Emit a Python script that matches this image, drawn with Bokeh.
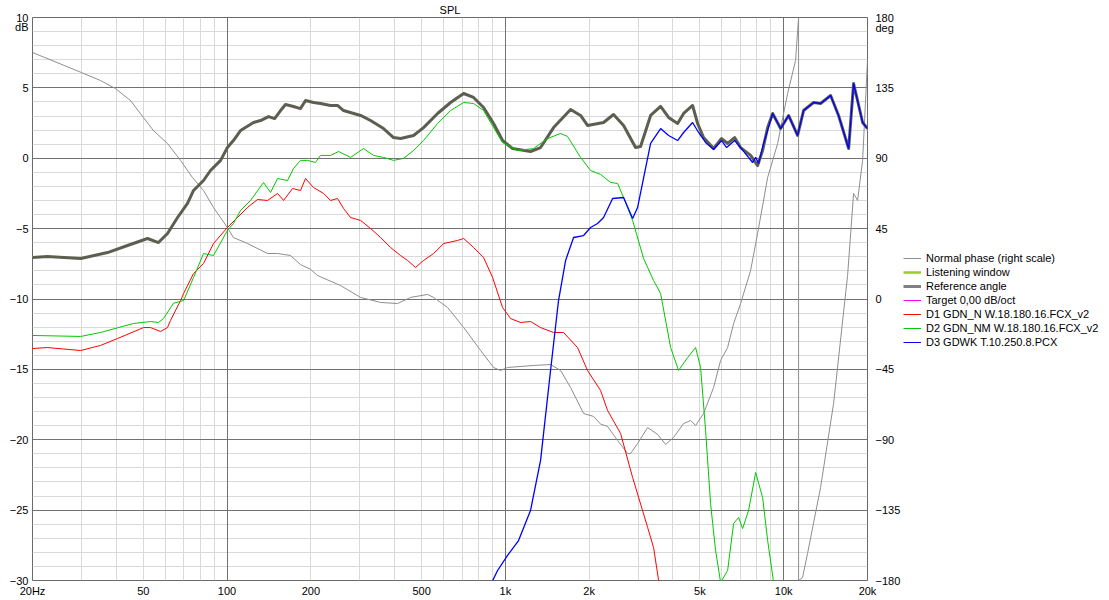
from bokeh.plotting import figure
from bokeh.layouts import row
from bokeh.models import (Range1d, LinearAxis, FixedTicker, Grid, Legend, LegendItem)
from bokeh.embed import file_html
from bokeh.resources import INLINE

# ---------------- data ----------------
phase_freq = [20, 30, 35.1, 39.7, 45.0, 50.1, 54.4, 61.1, 68.1, 75.1, 82.3, 89.4, 100.3, 105.4, 118.4, 139.8,
              151.9, 169.1, 183.7, 199.5, 211.4, 255.8, 301.8, 356.1, 409.9, 456.3, 525.4, 552.2,
              620, 707.9, 814.6, 906.9, 960.8, 1018, 1262, 1453, 1579, 1715, 1910, 2075, 2198,
              2329, 2530, 2749, 2818, 2985, 3244, 3524, 3764, 4022, 4369, 4629, 4825, 5154, 5598,
              5933, 6287, 6607, 7001, 7604, 8058, 8755, 9508, 10327, 11031, 11308, 11308, 11686,
              12180, 13566, 15110, 16963, 17826, 18426, 19209, 20000]
phase_deg = [157.6, 144.8, 139.7, 134.6, 126.9, 116.0, 107.7, 99.4, 88.6, 77.7, 69.4, 58.5, 45.7, 39.3, 35.5, 29.1,
             29.1, 27.8, 22.0, 19.0, 15.0, 8.6, 1.0, -2.2, -2.9, 1.0, 2.9, 1.0,
             -5.4, -18.2, -32.9, -43.8, -45.7, -43.8, -42.5, -41.9, -45.7, -56.6, -73.2, -75.1, -80.0,
             -81.5, -90.5, -98.8, -98.8, -92.4, -82.2, -86.6, -93.0, -88.5, -79.6, -77.7, -80.9, -73.2, -56.6,
             -39.3, -31.0, -15.7, -2.9, 18.2, 41.9, 77.7, 99.4, 131.4, 152.5, 180.0, -180.0, -178.1,
             -162.7, -120.5, -66.8, 15.0, 67.5, 63.0, 88.6, 152.5]

ref_freq = [20, 22.6, 29.8, 37.2, 43.9, 51.8, 56.7, 61.1, 66.4, 72.1, 75.8, 82.3, 87.2, 94.8, 100.3,
            105.4, 111.8, 124.5, 131.9, 141, 148.2, 155.7, 162.2, 173.3, 183.7, 191.4, 204.5, 216.7,
            235.4, 249.4, 262.2, 301.8, 327.8, 364.9, 396.5, 420.1, 467.8, 508.2, 570.7, 635.5, 707.9,
            768.6, 834.9, 906.9, 976.9, 1061, 1231, 1338, 1490, 1715, 1863, 1973, 2253, 2447, 2659,
            2936, 3060, 3325, 3612, 3859, 4157, 4369, 4705, 4905, 5154, 5598, 5982, 6287, 6662, 7001,
            7604, 8058, 8397, 8755, 9125, 9749, 10413, 11215, 11787, 12806, 13566, 14741, 15745,
            17110, 17826, 19209, 20000]
ref_db = [-7.05, -6.98, -7.12, -6.70, -6.20, -5.70, -5.99, -5.35, -4.21, -3.21, -2.29, -1.58, -0.87,
          -0.15, 0.76, 1.26, 1.97, 2.54, 2.68, 2.96, 2.82, 3.39, 3.82, 3.68, 3.53, 4.10, 3.96, 3.89,
          3.75, 3.75, 3.39, 3.04, 2.68, 2.11, 1.47, 1.40, 1.62, 2.18, 3.18, 3.96, 4.60,
          4.32, 3.61, 2.47, 1.26, 0.69, 0.48, 0.76, 2.18, 3.46, 3.04, 2.33, 2.54, 3.11, 2.33,
          0.76, 0.83, 3.04, 3.68, 2.90, 2.47, 3.18, 3.75, 2.47, 1.47, 0.69, 1.40, 1.05, 1.47, 0.76,
          0.20, -0.52, 0.55, 2.18, 3.18, 2.11, 3.04, 1.62, 3.39, 3.96, 3.89, 4.46, 3.04,
          0.69, 5.31, 2.54, 2.11]

d1_freq = [20, 22.6, 29.8, 35.1, 40.4, 50.1, 53.1, 57.7, 61.1, 62.6, 68.1, 69.8, 75.8, 82.3, 89.4,
           100.3, 109.1, 118.4, 128.7, 139.8, 151.9, 159.6, 171.9, 183.7, 191.4, 204.5, 222.2, 235.4,
           249.4, 262.2, 277.8, 301.8, 327.8, 356.1, 386.8, 420.1, 445.1, 475.6, 508.2, 552.2, 599.9,
           673.5, 707.9, 768.6, 834.9, 899.6, 976.9, 1044, 1134, 1231, 1338, 1490, 1618, 1817, 1973,
           2198, 2329, 2594, 2865, 3244, 3408, 3553, 3700]
d1_db = [-13.52, -13.45, -13.66, -13.30, -12.81, -12.03, -12.03, -12.31, -12.03, -11.53, -10.11, -9.61,
         -8.19, -7.48, -6.06, -4.92, -4.21, -3.50, -2.93, -3.00, -2.50, -3.00, -2.15, -2.29, -1.44, -2.08,
         -2.50, -3.00, -2.86, -3.57, -4.21, -4.42, -4.99, -5.63, -6.34, -6.91, -7.26, -7.76, -7.26, -6.77,
         -6.06, -5.84, -5.70, -6.34, -7.05, -8.47, -10.60, -11.39, -11.67, -11.60, -12.03, -12.38, -12.38,
         -13.45, -15.08, -16.50, -17.92, -19.56, -22.68, -26.23, -27.66, -30.0, -31.0]

d2_freq = [20, 29.8, 35.1, 46.1, 53.1, 56.7, 59.1, 64.2, 69.8, 75.8, 82.3, 89.4, 100.3, 105.4, 111.8,
           121.5, 135.2, 143.3, 151.9, 164.9, 173.3, 183.7, 194.6, 207.9, 216.7, 235.4, 251.6, 277.8,
           309.3, 336.1, 364.9, 396.5, 430.7, 467.8, 508.2, 570.7, 635.5, 707.9, 768.6, 834.9, 906.9,
           976.9, 1106, 1262, 1418, 1579, 1672, 1863, 2023, 2198, 2387, 2530, 2659, 2865, 3137, 3408,
           3612, 3924, 4191, 4515, 4825, 5028, 5240, 5460, 5691, 5933, 6287, 6607, 6885, 7117, 7477,
           7927, 8397, 8755, 9200, 9400]
d2_db = [-12.59, -12.66, -12.38, -11.74, -11.60, -11.67, -11.39, -10.30, -10.11, -8.47, -6.77, -6.91,
         -5.13, -4.64, -3.71, -3.00, -1.72, -2.43, -1.44, -1.58, -0.73, -0.15, -0.15, -0.30, 0.20, 0.20,
         0.48, 0.06, 0.69, 0.20, 0.06, -0.15, -0.01, 0.55, 1.26, 2.47, 3.39, 3.96, 3.89, 3.39, 2.18,
         1.12, 0.55, 0.69, 1.40, 1.76, 1.55, 0.06, -0.87, -1.15, -1.72, -1.79, -2.79, -4.42, -7.12, -8.69,
         -9.61, -13.45, -15.08, -14.16, -13.45, -14.87, -19.34, -24.53, -27.87, -30.14, -29.29, -25.95,
         -25.52, -26.31, -25.03, -22.33, -24.10, -27.16, -30.14, -31.0]

d3_freq = [850, 937.5, 1018, 1115, 1231, 1338, 1453, 1552, 1646, 1758, 1910, 2023, 2144, 2253, 2428,
           2659, 2865, 2985, 3325, 3612, 3859, 4157, 4369, 4705, 4946, 5240, 5598, 5982, 6235, 6662,
           7001, 7733, 7927, 8126, 8466, 9125, 9749, 10413, 11215, 11787, 12806, 13566, 14741, 15745,
           17110, 17826, 19209, 20000]
d3_db = [-31.0, -29.29, -28.22, -27.16, -25.03, -21.47, -15.08, -10.11, -7.26, -5.63, -5.49, -4.92,
         -4.64, -4.21, -2.86, -2.79, -4.28, -3.50, 1.05, 2.11, 1.62, 1.26, 1.83, 2.54, 1.83, 1.12, 0.62,
         1.26, 0.76, 1.26, 0.76, -0.30, 0.06, -0.37, 1.05, 3.18, 2.11, 3.04, 1.62, 3.39, 3.96, 3.89,
         4.46, 3.04, 0.69, 5.31, 2.54, 2.11]

x_ticks = [20, 50, 100, 200, 500, 1000, 2000, 5000, 10000, 20000]
x_tick_labels = ["20Hz", "50", "100", "200", "500", "1k", "2k", "5k", "10k", "20k"]
x_minor_grid = [30, 40, 50, 60, 70, 80, 90, 200, 300, 400, 500, 600, 700, 800, 900,
                2000, 3000, 4000, 5000, 6000, 7000, 8000, 9000]
x_major_grid = [100, 1000, 10000]
db_ticks = [-30, -25, -20, -15, -10, -5, 0, 5, 10]
deg_ticks = [-180, -135, -90, -45, 0, 45, 90, 135, 180]
db_unit, db_unit_pos = "dB", 9.3
deg_unit, deg_unit_pos = "deg", 173.6

legend_labels = ["Normal phase (right scale)", "Listening window", "Reference angle",
                 "Target 0,00 dB/oct", "D1 GDN_N W.18.180.16.FCX_v2",
                 "D2 GDN_NM W.18.180.16.FCX_v2", "D3 GDWK T.10.250.8.PCX"]
legend_colors = ["#8e8e8e", "#9acd32", "#808080", "#ff00ff", "#ff0000", "#00c800", "#0000ff"]
legend_widths = [1, 2.5, 3, 1, 1, 1, 1]

# ---------------- main figure ----------------
FONT = "Liberation Sans"
p = figure(x_axis_type="log", x_range=Range1d(20, 20000), y_range=Range1d(-30, 10),
           frame_width=835, frame_height=563, output_backend="svg", toolbar_location=None,
           min_border_left=32, min_border_right=35, min_border_top=17, min_border_bottom=18,
           title="SPL")
p.title.align = "center"
p.title.text_font = FONT
p.title.text_font_size = "11px"
p.title.text_font_style = "normal"
p.title.text_color = "black"
p.title.standoff = 3
p.title.offset = 0

p.extra_y_ranges = {"deg": Range1d(-180, 180)}
p.background_fill_color = "white"
p.border_fill_color = "white"
p.outline_line_color = "#6a6a6a"
p.outline_line_width = 1

# grids
p.xgrid.visible = False
p.ygrid.visible = False
minor_y = [v for v in range(-29, 10) if v % 5 != 0]
light = "#d9d9d9"
dark = "#727272"
p.add_layout(Grid(dimension=0, ticker=FixedTicker(ticks=x_minor_grid), grid_line_color=light))
p.add_layout(Grid(dimension=1, ticker=FixedTicker(ticks=minor_y), grid_line_color=light))
p.add_layout(Grid(dimension=0, ticker=FixedTicker(ticks=x_major_grid), grid_line_color=dark))
p.add_layout(Grid(dimension=1, ticker=FixedTicker(ticks=[-25, -20, -15, -10, -5, 0, 5]), grid_line_color=dark))

# axes
xa = p.xaxis[0]
xa.ticker = FixedTicker(ticks=x_ticks)
xa.major_label_overrides = {t: l for t, l in zip(x_ticks, x_tick_labels)}
ya = p.yaxis[0]
ya.ticker = FixedTicker(ticks=db_ticks + [db_unit_pos])
ya.major_label_overrides = {db_unit_pos: db_unit}
ra = LinearAxis(y_range_name="deg", ticker=FixedTicker(ticks=deg_ticks + [deg_unit_pos]))
ra.major_label_overrides = {deg_unit_pos: deg_unit}
p.add_layout(ra, "right")
for ax in (xa, ya, ra):
    ax.axis_line_color = None
    ax.major_tick_line_color = None
    ax.minor_tick_line_color = None
    ax.major_tick_out = 0
    ax.major_tick_in = 0
    ax.minor_tick_out = 0
    ax.minor_tick_in = 0
    ax.major_label_text_font = FONT
    ax.major_label_text_font_size = "11px"
    ax.major_label_text_color = "black"
xa.major_label_standoff = 4
ya.major_label_standoff = 4
ra.major_label_standoff = 8

# lines
p.line(phase_freq, phase_deg, y_range_name="deg", line_color="#8e8e8e", line_width=1)
p.line(ref_freq, ref_db, line_color="#5e5e50", line_width=3, line_join="round")
p.line(d1_freq, d1_db, line_color="#ff0000", line_width=1)
p.line(d2_freq, d2_db, line_color="#00c800", line_width=1)
p.line(d3_freq, d3_db, line_color="#0000ff", line_width=1.3)

# ---------------- legend figure ----------------
q = figure(width=207, height=598, x_range=Range1d(0, 1), y_range=Range1d(0, 1),
           output_backend="svg", toolbar_location=None,
           min_border_left=0, min_border_right=0, min_border_top=0, min_border_bottom=0)
q.axis.visible = False
q.grid.visible = False
q.outline_line_color = None
q.background_fill_color = "white"
q.border_fill_color = "white"
leg_r = [q.line([5, 6], [5, 5], line_color=c, line_width=w) for c, w in zip(legend_colors, legend_widths)]
legend = Legend(items=[LegendItem(label=l, renderers=[r]) for l, r in zip(legend_labels, leg_r)],
                location=(0, 230), orientation="vertical",
                label_text_font=FONT, label_text_font_size="11px", label_text_color="black",
                glyph_width=18, glyph_height=14, label_height=14, label_standoff=5,
                spacing=0, padding=0, margin=0,
                border_line_color=None, background_fill_alpha=0)
q.add_layout(legend)

layout = row(p, q, spacing=0)
open("out.html", "w").write(file_html(layout, INLINE))
